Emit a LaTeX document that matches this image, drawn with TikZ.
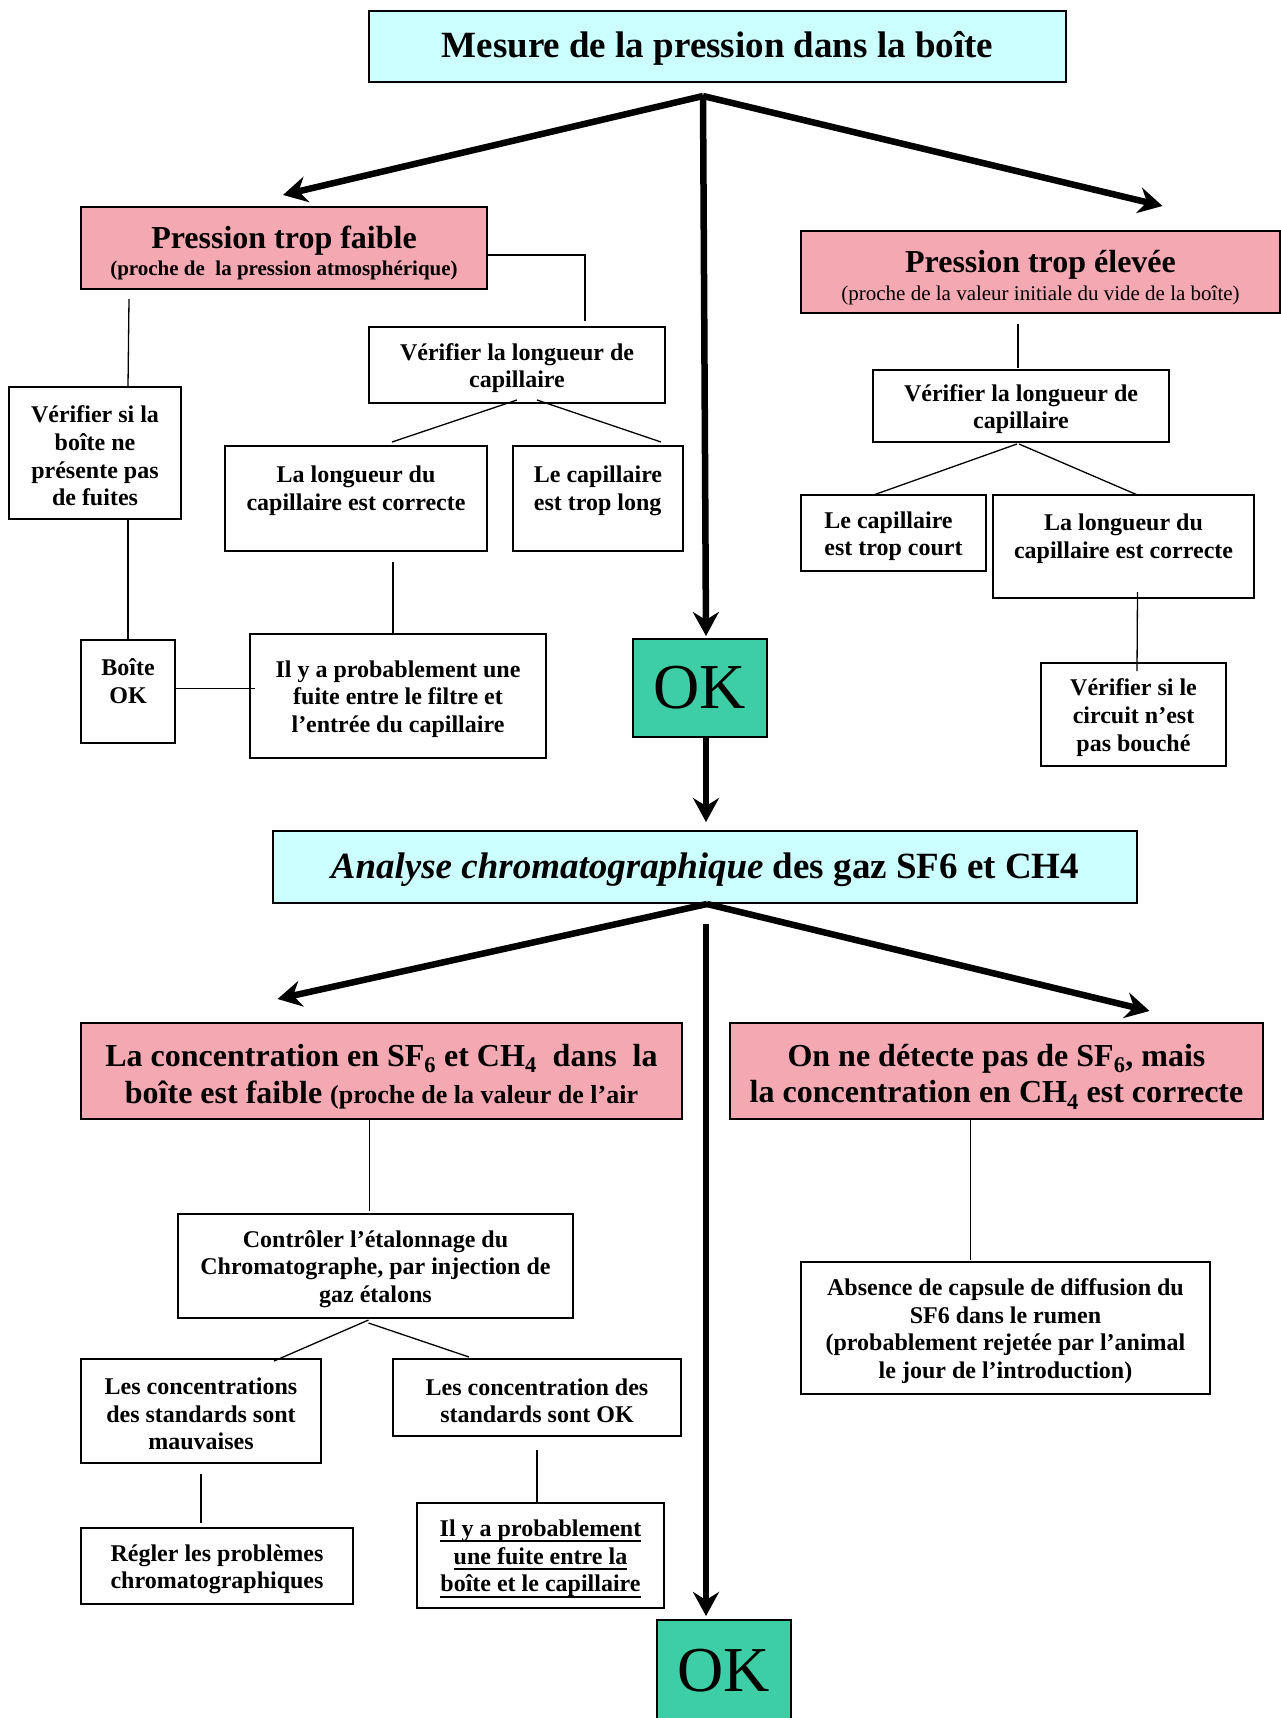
\documentclass[tikz,border=0pt]{standalone}
\usepackage{fontspec}
\setmainfont{Liberation Serif}
\usetikzlibrary{arrows.meta,calc}
\definecolor{cyanbox}{RGB}{204,255,255}
\definecolor{pinkbox}{RGB}{244,168,178}
\definecolor{okbox}{RGB}{62,206,166}
\newsavebox{\ulbx}
\newcommand\thickul[1]{\leavevmode\sbox{\ulbx}{#1}\rlap{\rule[-6pt]{\wd\ulbx}{2pt}}\usebox{\ulbx}}
\newcommand\tst{\rule{0pt}{23pt}}
\begin{document}
\begin{tikzpicture}[x=1pt,y=-1pt,
  every node/.style={inner sep=0pt, outer sep=0pt, align=center},
  plain/.style={draw, line width=1.4pt, fill=white,
    font=\bfseries\fontsize{24}{27.6}\selectfont},
  cyanhead/.style={draw, line width=2pt, fill=cyanbox,
    font=\bfseries\fontsize{37}{42}\selectfont},
  pinkhead/.style={draw, line width=2pt, fill=pinkbox,
    font=\bfseries\fontsize{32}{36.8}\selectfont},
  okstyle/.style={draw, line width=2pt, fill=okbox,
    font=\fontsize{64}{70}\selectfont},
  link/.style={line width=1.3pt},
  bigarrow/.style={line width=6.5pt,
    -{Stealth[length=24pt,width=26pt,inset=8pt]}}
]
\useasboundingbox (0,0) rectangle (1281,1718);

% ---------- top part ----------
\node[cyanhead, minimum width=697pt, minimum height=71pt] (title) at (717.5,46.5)
  {\rule{0pt}{30pt}Mesure de la pression dans la boîte};

\node[pinkhead, minimum width=406pt, minimum height=82pt] (pLow) at (284,248)
  {\rule{0pt}{33pt}Pression trop faible\\[-10pt]{\fontsize{21}{24}\selectfont (proche de\ \ la pression atmosphérique)}};

\node[pinkhead, minimum width=479pt, minimum height=82pt] (pHigh) at (1040.5,272)
  {\rule{0pt}{34pt}Pression trop élevée\\[-9pt]{\mdseries\fontsize{21}{24}\selectfont (proche de la valeur initiale du vide de la boîte)}};

\node[plain, minimum width=296pt, minimum height=76pt] (vL1) at (517,365)
  {\tst Vérifier la longueur de\\capillaire};
\node[plain, minimum width=262pt, minimum height=105pt] (corrL) at (356,498.5)
  {\tst La longueur du\\capillaire est correcte\\\mbox{}};
\node[plain, minimum width=170pt, minimum height=105pt, align=left] (longL) at (598,498.5)
  {\tst Le capillaire\\est trop long\\\mbox{}};
\node[plain, minimum width=296pt, minimum height=124pt] (fuiteL) at (398,696)
  {\tst Il y a probablement une\\fuite entre le filtre et\\l’entrée du capillaire};
\node[plain, minimum width=94pt, minimum height=103pt] (boiteOK) at (128,691.5)
  {\tst Boîte\\OK\\\mbox{}};
\node[plain, minimum width=172pt, minimum height=132pt] (vFuites) at (95,453)
  {\tst Vérifier si la\\boîte ne\\présente pas\\de fuites};

\node[okstyle, minimum width=134pt, minimum height=98pt] (OK1) at (700,688) {OK};

\node[plain, minimum width=296pt, minimum height=72pt] (vR1) at (1021,406)
  {\tst Vérifier la longueur de\\capillaire};
\node[plain, minimum width=185pt, minimum height=76pt, align=left] (court) at (893.5,533)
  {\tst Le capillaire\\est trop court};
\node[plain, minimum width=261pt, minimum height=103pt] (corrR) at (1123.5,546.5)
  {\tst La longueur du\\capillaire est correcte\\\mbox{}};
\node[plain, minimum width=185pt, minimum height=103pt] (circuit) at (1133.5,714.5)
  {\tst Vérifier si le\\circuit n’est\\pas bouché};

% ---------- bottom part ----------
\node[cyanhead, minimum width=864pt, minimum height=72pt] (analyse) at (705,867)
  {\rule{0pt}{31pt}\textit{Analyse chromatographique} des gaz SF6 et CH4};

\node[pinkhead, minimum width=601pt, minimum height=96pt] (concL) at (381.5,1071)
  {\rule{0pt}{33pt}La concentration en SF\textsubscript{6} et CH\textsubscript{4}\ \ dans\ \ la\\
   boîte est faible {\fontsize{26}{30}\selectfont(proche de la valeur de l’air}};
\node[pinkhead, minimum width=533pt, minimum height=96pt] (sf6R) at (996.5,1071)
  {\rule{0pt}{33pt}On ne détecte pas de SF\textsubscript{6}, mais\\
   la concentration en CH\textsubscript{4} est correcte};

\node[plain, minimum width=395pt, minimum height=104pt] (ctrl) at (375.5,1266)
  {\tst Contrôler l’étalonnage du\\Chromatographe, par injection de\\gaz étalons};
\node[plain, minimum width=240pt, minimum height=104pt] (mauv) at (201,1411)
  {\tst Les concentrations\\des standards sont\\mauvaises};
\node[plain, minimum width=288pt, minimum height=77pt] (stdOK) at (537,1397.5)
  {\tst Les concentration des\\standards sont OK};
\node[plain, minimum width=272pt, minimum height=76pt] (regler) at (217,1566)
  {\tst Régler les problèmes\\chromatographiques};
\node[plain, minimum width=247pt, minimum height=105pt] (fuiteB) at (540.5,1555.5)
  {\tst\thickul{Il y a probablement}\\\thickul{une fuite entre la}\\\thickul{boîte et le capillaire}};
\node[plain, minimum width=409pt, minimum height=132pt] (absence) at (1005.5,1328)
  {\tst Absence de capsule de diffusion du\\SF6 dans le rumen\\(probablement rejetée par l’animal\\le jour de l’introduction)};

\node[okstyle, minimum width=134pt, minimum height=102pt] (OK2) at (724,1671) {OK};

% ---------- thin connectors ----------
\coordinate (j1) at ($(vL1.north)+(68,-6)$);
\draw[link] ($(pLow.east)+(0,7)$) -| (j1);
\draw[link] ($(pLow.south -| boiteOK.north)+(1,10)$) -- (vFuites.north -| boiteOK.north);
\draw[link] (vFuites.south -| boiteOK.north) -- (boiteOK.north);
\draw[link] ($(boiteOK.east)+(0,-3)$) -- ($(boiteOK.east -| fuiteL.west)+(5,-3)$);
\draw[link] ($(vL1.south)+(0,-3)$) -- ($(corrL.north)+(36,-4)$);
\draw[link] ($(vL1.south)+(20,-3)$) -- ($(longL.north)+(63,-4)$);
\draw[link] ($(corrL.south -| fuiteL.north)+(-5,11)$) -- ($(fuiteL.north)+(-5,0)$);

\draw[link] ($(pHigh.south -| vR1.north)+(-3,11)$) -- ($(vR1.north)+(-3,-2)$);
\draw[link] ($(vR1.south)+(-4,2)$) -- ($(court.north)+(-20,0)$);
\draw[link] ($(vR1.south)+(-2,2)$) -- ($(corrR.north)+(14,0)$);
\draw[link] ($(corrR.south)+(14,-6)$) -- ($(circuit.north)+(3.5,8)$);

\draw[link] ($(concL.south)+(-12,0)$) -- ($(ctrl.north)+(-6,-3)$);
\draw[link] ($(ctrl.south)+(-7,2)$) -- ($(mauv.north)+(73,2)$);
\draw[link] ($(ctrl.south)+(-7,5)$) -- ($(stdOK.north)+(-68,-2)$);
\draw[link] ($(mauv.south)+(0,11)$) -- ($(regler.north -| mauv.south)+(0,-5)$);
\draw[link] ($(stdOK.south)+(0,14)$) -- (fuiteB.north -| stdOK.south);
\draw[link] ($(sf6R.south)+(-26,0)$) -- ($(absence.north)+(-35,-2)$);

% ---------- thick arrows ----------
\coordinate (apex1) at (703,96);
\draw[bigarrow] (apex1) -- ($(pLow.north)+(-1,-12)$);
\draw[bigarrow] (apex1) -- ($(pHigh.north)+(122,-25)$);
\draw[bigarrow] (apex1) -- ($(apex1 |- OK1.north)+(3,-3)$);
\draw[bigarrow] ($(OK1.south)+(6,0)$) -- ($(analyse.north -| OK1.south)+(6,-9)$);

\coordinate (apex2) at (707,904);
\draw[bigarrow] (apex2) -- ($(concL.north)+(-104,-24)$);
\draw[bigarrow] (apex2) -- ($(sf6R.north)+(153,-12)$);
\draw[bigarrow] ($(apex2)+(-1,20)$) -- ($(apex2 |- OK2.north)+(-1,-4)$);
\end{tikzpicture}
\end{document}
